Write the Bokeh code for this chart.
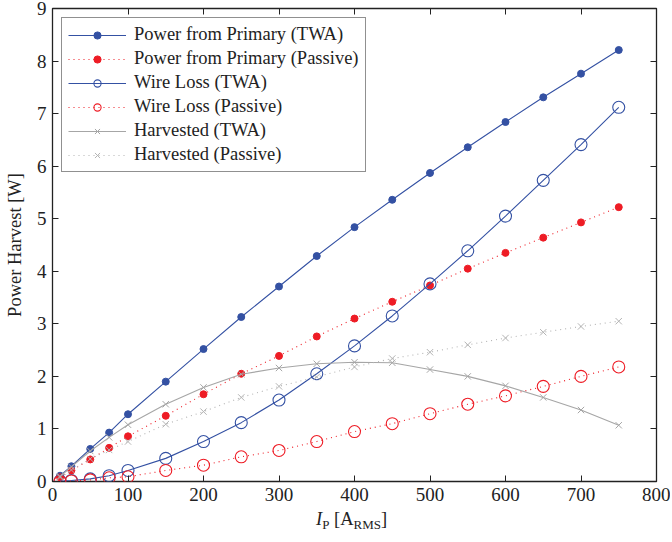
from bokeh.plotting import figure
from bokeh.models import Range1d, LinearAxis, FixedTicker, Legend, Div
from bokeh.layouts import column
from bokeh.embed import file_html
from bokeh.resources import INLINE

# ---- data ----
current = [10, 25, 50, 75, 100, 150, 200, 250, 300, 350, 400, 450, 500, 550, 600, 650, 700, 750]
primary_twa = [0.11, 0.29, 0.62, 0.93, 1.28, 1.90, 2.52, 3.13, 3.71, 4.29, 4.84, 5.36, 5.87, 6.36, 6.84, 7.31, 7.76, 8.21]
primary_passive = [0.08, 0.21, 0.42, 0.64, 0.86, 1.25, 1.66, 2.05, 2.39, 2.76, 3.10, 3.42, 3.73, 4.05, 4.35, 4.64, 4.93, 5.22]
wireloss_twa = [0.01, 0.02, 0.05, 0.11, 0.21, 0.44, 0.76, 1.12, 1.55, 2.05, 2.58, 3.15, 3.76, 4.39, 5.05, 5.73, 6.41, 7.12]
wireloss_passive = [0.0, 0.01, 0.03, 0.07, 0.09, 0.21, 0.31, 0.47, 0.59, 0.76, 0.95, 1.10, 1.29, 1.47, 1.63, 1.81, 2.00, 2.18]
harvest_twa = [0.10, 0.28, 0.58, 0.84, 1.08, 1.47, 1.79, 2.04, 2.16, 2.24, 2.27, 2.26, 2.13, 2.00, 1.82, 1.60, 1.36, 1.07]
harvest_passive = [0.08, 0.22, 0.43, 0.60, 0.76, 1.09, 1.33, 1.60, 1.81, 1.99, 2.18, 2.34, 2.46, 2.60, 2.73, 2.84, 2.95, 3.05]

x_ticks = [0, 100, 200, 300, 400, 500, 600, 700, 800]
y_ticks = [0, 1, 2, 3, 4, 5, 6, 7, 8, 9]

FONT = "Liberation Serif"
BLUE = "#3451a3"
RED = "#ee1c25"
GRAY = "#a6a6a6"
GRAY2 = "#b4b4b4"
DARK = "#222222"

p = figure(width=670, height=507, output_backend="svg", toolbar_location=None,
           x_range=Range1d(0, 800), y_range=Range1d(0, 9),
           min_border_left=52, min_border_right=14, min_border_top=8, min_border_bottom=26)
p.grid.visible = False
p.outline_line_color = DARK
p.outline_line_width = 1.3
p.background_fill_color = "white"

for ax in (p.xaxis[0], p.yaxis[0]):
    ax.major_tick_in = 6
    ax.major_tick_out = 0
    ax.minor_tick_line_color = None
    ax.axis_line_color = None
    ax.major_tick_line_color = DARK
    ax.major_label_text_font = FONT
    ax.major_label_text_font_size = "19px"
    ax.major_label_text_color = DARK
p.xaxis.ticker = FixedTicker(ticks=x_ticks)
p.yaxis.ticker = FixedTicker(ticks=y_ticks)
p.xaxis.major_label_standoff = 6
p.yaxis.major_label_standoff = 6
p.yaxis.axis_label = "Power Harvest [W]"
p.yaxis.axis_label_text_font = FONT
p.yaxis.axis_label_text_font_size = "18.5px"
p.yaxis.axis_label_text_font_style = "normal"
p.yaxis.axis_label_text_color = DARK
p.yaxis.axis_label_standoff = 9

# mirrored tick marks on top and right
top_ax = LinearAxis(ticker=FixedTicker(ticks=x_ticks), major_tick_in=6, major_tick_out=0,
                    minor_tick_line_color=None, axis_line_color=None,
                    major_tick_line_color=DARK, major_label_text_font_size="0px",
                    major_label_standoff=0)
right_ax = LinearAxis(ticker=FixedTicker(ticks=y_ticks), major_tick_in=6, major_tick_out=0,
                      minor_tick_line_color=None, axis_line_color=None,
                      major_tick_line_color=DARK, major_label_text_font_size="0px",
                      major_label_standoff=0)
p.add_layout(top_ax, "above")
p.add_layout(right_ax, "right")

items = []
r1 = p.line(current, primary_twa, line_color=BLUE, line_width=1.1)
s1 = p.scatter(current, primary_twa, marker="circle", size=7, fill_color=BLUE, line_color=BLUE)
items.append(("Power from Primary (TWA)", [r1, s1]))
r2 = p.line(current, primary_passive, line_color=RED, line_width=1.1, line_dash="1 4")
s2 = p.scatter(current, primary_passive, marker="circle", size=7, fill_color=RED, line_color=RED)
items.append(("Power from Primary (Passive)", [r2, s2]))
r3 = p.line(current, wireloss_twa, line_color=BLUE, line_width=1.1)
s3 = p.scatter(current, wireloss_twa, marker="circle", size=12, fill_color=None, line_color=BLUE, line_width=1.1)
items.append(("Wire Loss (TWA)", [r3, s3]))
r4 = p.line(current, wireloss_passive, line_color=RED, line_width=1.1, line_dash="1 4")
s4 = p.scatter(current, wireloss_passive, marker="circle", size=12, fill_color=None, line_color=RED, line_width=1.1)
items.append(("Wire Loss (Passive)", [r4, s4]))
r5 = p.line(current, harvest_twa, line_color=GRAY, line_width=1.1)
s5 = p.scatter(current, harvest_twa, marker="x", size=9, line_color=GRAY, line_width=1.0)
items.append(("Harvested (TWA)", [r5, s5]))
r6 = p.line(current, harvest_passive, line_color=GRAY2, line_width=1.1, line_dash="1 4")
s6 = p.scatter(current, harvest_passive, marker="x", size=9, line_color=GRAY2, line_width=1.0)
items.append(("Harvested (Passive)", [r6, s6]))

legend = Legend(items=items, location="top_left", margin=9, padding=6,
                spacing=3, label_height=18, glyph_height=18, glyph_width=58,
                label_standoff=8, label_text_font=FONT, label_text_font_size="18.5px",
                label_text_color=DARK, border_line_color=DARK, border_line_width=1.2,
                background_fill_alpha=1.0)
p.add_layout(legend)

# x-axis title with italic I and subscripts, as real HTML text
xlabel_html = (
    '<div style="padding-left:316px; padding-top:2px; font-family:\'Liberation Serif\'; '
    'font-size:18.5px; line-height:20px; color:#222222; white-space:nowrap;">'
    '<i>I</i><span style="font-size:13px; position:relative; top:4px;">P</span>'
    ' [A<span style="font-size:13px; position:relative; top:4px;">RMS</span>]</div>'
)
xlabel = Div(text=xlabel_html, width=670, height=30, margin=0)

layout = column(p, xlabel, spacing=0)

open("out.html", "w").write(file_html(layout, INLINE))
